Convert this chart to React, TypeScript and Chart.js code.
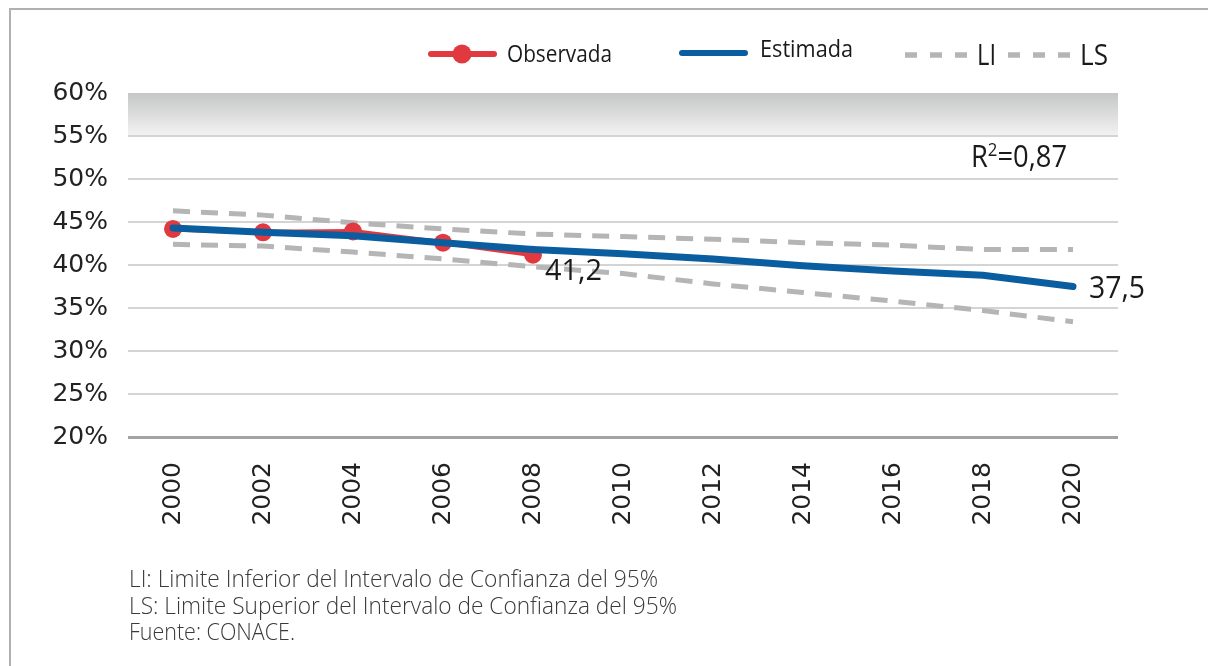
import React, { useEffect, useRef } from 'react';
import { Chart, registerables } from 'chart.js';

Chart.register(...registerables);

const years = ['2000', '2002', '2004', '2006', '2008', '2010', '2012', '2014', '2016', '2018', '2020'];
const observada = [44.2, 43.8, 43.9, 42.6, 41.2, null, null, null, null, null, null];
const estimada = [44.3, 43.8, 43.4, 42.6, 41.8, 41.3, 40.7, 39.9, 39.3, 38.8, 37.5];
const limInf = [42.4, 42.2, 41.5, 40.7, 39.8, 39.0, 37.8, 36.8, 35.8, 34.7, 33.4];
const limSup = [46.3, 45.8, 44.9, 44.2, 43.6, 43.3, 43.0, 42.6, 42.3, 41.8, 41.8];
const yMin = 20;
const yMax = 60;
const yStep = 5;
const bandFrom = 55;
const r2Text = ['R', '2', '=0,87'];
const footnotes = [
  'LI: Limite Inferior del Intervalo de Confianza del 95%',
  'LS: Limite Superior del Intervalo de Confianza del 95%',
  'Fuente: CONACE.',
];

const RED = '#e0393f';
const BLUE = '#0a5e9f';
const GRAY = '#b5b5b5';
const HFONT = '"Open Sans", "Noto Sans", sans-serif';

function fitText(
  ctx: CanvasRenderingContext2D,
  text: string,
  x: number,
  y: number,
  size: number,
  width: number,
  color: string,
  weight = '400'
) {
  ctx.save();
  ctx.font = `${weight} ${size}px ${HFONT}`;
  const w = ctx.measureText(text).width;
  ctx.translate(x, y);
  ctx.scale(width / w, 1);
  ctx.textAlign = 'left';
  ctx.textBaseline = 'alphabetic';
  ctx.fillStyle = color;
  ctx.fillText(text, 0, 0);
  ctx.restore();
}

const fmt = (v: number) => v.toFixed(1).replace('.', ',');

const decorPlugin = {
  id: 'decor',
  beforeDraw(chart: any) {
    const { ctx, chartArea, scales } = chart;
    const y = scales.y;
    const top = y.getPixelForValue(yMax);
    const bot = y.getPixelForValue(bandFrom);
    const g = ctx.createLinearGradient(0, top, 0, bot);
    g.addColorStop(0, '#c5c6c6');
    g.addColorStop(1, '#f3f3f3');
    ctx.save();
    ctx.fillStyle = g;
    ctx.fillRect(chartArea.left, top, chartArea.right - chartArea.left, bot - top);
    // frame
    ctx.strokeStyle = '#b0b0b0';
    ctx.lineWidth = 2;
    ctx.beginPath();
    ctx.moveTo(10, 670);
    ctx.lineTo(10, 9);
    ctx.lineTo(1210, 9);
    ctx.stroke();
    ctx.restore();
  },
  afterDatasetsDraw(chart: any) {
    const { ctx } = chart;
    // data labels
    const obsMeta = chart.getDatasetMeta(0);
    let lastObs = -1;
    observada.forEach((v, i) => {
      if (v !== null) lastObs = i;
    });
    const pObs = obsMeta.data[lastObs];
    fitText(ctx, fmt(observada[lastObs] as number), pObs.x + 12, pObs.y + 25, 29, 57, '#1a1a1a');
    const estMeta = chart.getDatasetMeta(1);
    const li = estimada.length - 1;
    const pEst = estMeta.data[li];
    fitText(ctx, fmt(estimada[li]), pEst.x + 16, pEst.y + 11, 31, 56, '#1a1a1a');
  },
  afterDraw(chart: any) {
    const { ctx } = chart;
    const ds = chart.data.datasets;
    ctx.save();
    // legend: Observada
    ctx.lineCap = 'round';
    ctx.strokeStyle = ds[0].borderColor;
    ctx.lineWidth = 6;
    ctx.beginPath();
    ctx.moveTo(431, 54);
    ctx.lineTo(494, 54);
    ctx.stroke();
    ctx.fillStyle = ds[0].borderColor;
    ctx.beginPath();
    ctx.arc(462, 54, 9.5, 0, Math.PI * 2);
    ctx.fill();
    fitText(ctx, ds[0].label, 507, 62, 24, 105, '#1a1a1a');
    // Estimada
    ctx.strokeStyle = ds[1].borderColor;
    ctx.lineWidth = 6;
    ctx.beginPath();
    ctx.moveTo(682, 53);
    ctx.lineTo(745, 53);
    ctx.stroke();
    fitText(ctx, ds[1].label, 760, 57, 24, 93, '#1a1a1a');
    // LI / LS
    ctx.lineCap = 'butt';
    ctx.strokeStyle = ds[2].borderColor;
    ctx.lineWidth = 5.5;
    [905, 1008].forEach((x0) => {
      for (let k = 0; k < 3; k++) {
        ctx.beginPath();
        ctx.moveTo(x0 + k * 25, 55);
        ctx.lineTo(x0 + k * 25 + 12, 55);
        ctx.stroke();
      }
    });
    fitText(ctx, ds[2].label, 977, 65, 30, 19, '#1a1a1a');
    fitText(ctx, ds[3].label, 1080, 65, 30, 28, '#1a1a1a');

    // R^2 annotation
    ctx.font = `400 31px ${HFONT}`;
    const wR = ctx.measureText(r2Text[0]).width;
    const wRest = ctx.measureText(r2Text[2]).width;
    ctx.font = `400 19px ${HFONT}`;
    const w2 = ctx.measureText(r2Text[1]).width;
    const s = 96 / (wR + w2 + wRest);
    ctx.translate(971, 167);
    ctx.scale(s, 1);
    ctx.fillStyle = '#1a1a1a';
    ctx.textBaseline = 'alphabetic';
    ctx.textAlign = 'left';
    ctx.font = `400 31px ${HFONT}`;
    ctx.fillText(r2Text[0], 0, 0);
    ctx.font = `400 19px ${HFONT}`;
    ctx.fillText(r2Text[1], wR, -11);
    ctx.font = `400 31px ${HFONT}`;
    ctx.fillText(r2Text[2], wR + w2, 0);
    ctx.restore();

    // footnotes
    const widths = [529, 548, 166];
    footnotes.forEach((t, i) => {
      fitText(ctx, t, 129, 587 + i * 26.5, 23, widths[i], '#3a3a3a', '300');
    });
  },
};

export default function App() {
  const ref = useRef<HTMLCanvasElement | null>(null);

  useEffect(() => {
    document.body.style.margin = '0';
    const canvas = ref.current;
    if (!canvas) return;
    const chart = new Chart(canvas, {
      type: 'line',
      data: {
        labels: years,
        datasets: [
          {
            label: 'Observada',
            data: observada,
            borderColor: RED,
            backgroundColor: RED,
            borderWidth: 5,
            pointRadius: 9,
            pointBackgroundColor: RED,
            pointBorderWidth: 0,
            order: 2,
            spanGaps: false,
          },
          {
            label: 'Estimada',
            data: estimada,
            borderColor: BLUE,
            backgroundColor: BLUE,
            borderWidth: 7,
            pointRadius: 0,
            borderCapStyle: 'round',
            order: 1,
          },
          {
            label: 'LI',
            data: limInf,
            borderColor: GRAY,
            backgroundColor: GRAY,
            borderWidth: 5,
            borderDash: [17, 11],
            pointRadius: 0,
            order: 3,
          },
          {
            label: 'LS',
            data: limSup,
            borderColor: GRAY,
            backgroundColor: GRAY,
            borderWidth: 5,
            borderDash: [17, 11],
            pointRadius: 0,
            order: 4,
          },
        ],
      } as any,
      options: {
        responsive: false,
        animation: false,
        devicePixelRatio: 1,
        layout: { padding: { top: 93, left: 0, right: 90, bottom: 0 } },
        plugins: {
          legend: { display: false },
          title: { display: false },
          tooltip: { enabled: false },
        },
        scales: {
          x: {
            type: 'category',
            offset: true,
            grid: { display: false, drawTicks: false },
            border: { display: false },
            ticks: {
              minRotation: 90,
              maxRotation: 90,
              padding: 25,
              color: '#222',
              font: { family: '"DejaVu Sans"', size: 25 },
              autoSkip: false,
            },
            afterFit: (scale: any) => {
              scale.height = 229;
            },
          },
          y: {
            min: yMin,
            max: yMax,
            border: { display: false },
            grid: {
              drawTicks: false,
              color: (c: any) =>
                c.tick && c.tick.value === yMin ? '#a3a3a3' : c.tick && c.tick.value === yMax ? 'rgba(0,0,0,0)' : '#d4d4d4',
              lineWidth: (c: any) => (c.tick && c.tick.value === yMin ? 3 : 2),
            },
            ticks: {
              stepSize: yStep,
              padding: 20,
              color: '#222',
              font: { family: '"DejaVu Sans"', size: 25 },
              callback: (v: any) => `${v}%`,
            },
            afterFit: (scale: any) => {
              scale.width = 128;
            },
          },
        },
      } as any,
      plugins: [decorPlugin],
    });
    return () => chart.destroy();
  }, []);

  return (
    <div style={{ width: 1208, height: 666, position: 'relative', background: '#fff' }}>
      <canvas ref={ref} width={1208} height={666} style={{ display: 'block' }} />
    </div>
  );
}
